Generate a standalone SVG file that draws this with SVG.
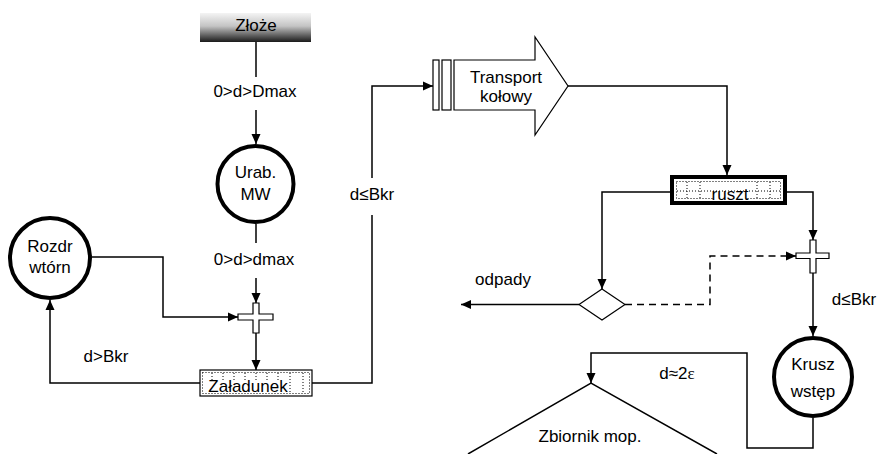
<svg xmlns="http://www.w3.org/2000/svg" width="878" height="454" viewBox="0 0 878 454">
<style>
text{font-family:"Liberation Sans",Arial,sans-serif;font-size:17px;fill:#000;text-anchor:middle}
.c{fill:none;stroke:#000;stroke-width:1.5}
.d{stroke-dasharray:7,5}
.node{fill:#fff;stroke:#000;stroke-width:4}
.thin{fill:#fff;stroke:#000;stroke-width:1.2}
.dot{fill:none;stroke:#000;stroke-width:1;stroke-dasharray:1,2}
</style>
<defs>
<linearGradient id="g" x1="0" y1="0" x2="0" y2="1">
<stop offset="0" stop-color="#f4f4f4"/>
<stop offset="0.45" stop-color="#c4c4c4"/>
<stop offset="1" stop-color="#1a1a1a"/>
</linearGradient>
<marker id="a" markerUnits="userSpaceOnUse" markerWidth="10" markerHeight="10" viewBox="0 0 10 10" refX="10" refY="5" orient="auto">
<path d="M0,0.5 L10,5 L0,9.5 Z" fill="#000"/>
</marker>
</defs>

<g id="connectors">
<path class="c" d="M256,42 V77"/>
<path class="c" d="M256,110 V144" marker-end="url(#a)"/>
<path class="c" d="M256,224 V243"/>
<path class="c" d="M256,278 V303" marker-end="url(#a)"/>
<path class="c" d="M92,257 H163 V317 H238" marker-end="url(#a)"/>
<path class="c" d="M256,333 V370" marker-end="url(#a)"/>
<path class="c" d="M200,383 H50 V300" marker-end="url(#a)"/>
<path class="c" d="M312,383 H372 V215"/>
<path class="c" d="M372,178 V86 H433" marker-end="url(#a)"/>
<path class="c" d="M568,86 H727 V175" marker-end="url(#a)"/>
<path class="c" d="M670,192 H602 V289" marker-end="url(#a)"/>
<path class="c" d="M579,304.5 H461" marker-end="url(#a)"/>
<path class="c d" d="M625,304.5 H710 V256 H796" marker-end="url(#a)"/>
<path class="c" d="M787,192 H813 V240" marker-end="url(#a)"/>
<path class="c" d="M813,273 V336" marker-end="url(#a)"/>
<path class="c" d="M813,418 V448 H747 V353 H591 V383" marker-end="url(#a)"/>
</g>

<g id="zloze">
<rect x="200" y="13" width="111" height="29" fill="url(#g)"/>
<text x="256" y="31">Złoże</text>
</g>
<text x="255" y="97">0&gt;d&gt;Dmax</text>

<g id="urab">
<circle class="node" cx="255.5" cy="184" r="38"/>
<text x="255.5" y="178">Urab.</text>
<text x="255.5" y="200">MW</text>
</g>
<text x="254" y="265">0&gt;d&gt;dmax</text>

<g id="rozdr">
<circle class="node" cx="50" cy="258" r="40"/>
<text x="50" y="252">Rozdr</text>
<text x="50" y="273">wtórn</text>
</g>
<text x="106" y="362">d&gt;Bkr</text>

<g id="cross1">
<path class="thin" d="M253,303 H259 V314 H273 V320 H259 V333 H253 V320 H238 V314 H253 Z"/>
</g>

<g id="zaladunek">
<rect x="200" y="370" width="112" height="26" fill="#fff" stroke="#000" stroke-width="1.2"/>
<rect class="dot" x="202.5" y="372.5" width="107" height="21"/>
<path class="dot" d="M212,373 V380 M223,373 V380 M234,373 V380 M245,373 V380 M256,373 V380 M267,373 V380 M278,373 V380 M290,373 V393 M303,373 V393"/>
<text x="248" y="392">Załadunek</text>
</g>

<text x="372" y="200">d≤Bkr</text>

<g id="transport">
<rect x="433" y="60" width="6" height="50" fill="#fff" stroke="#000" stroke-width="1.2"/>
<rect x="442" y="60" width="9" height="50" fill="#fff" stroke="#000" stroke-width="1.2"/>
<path class="thin" d="M454,60 H535 V37 L568,86 L535,135 V110 H454 Z"/>
<text x="506" y="83">Transport</text>
<text x="506" y="102">kołowy</text>
</g>

<g id="ruszt">
<rect x="672" y="177" width="113" height="26" fill="#fff" stroke="#000" stroke-width="4"/>
<rect class="dot" x="676.5" y="181.5" width="104" height="17"/>
<path class="dot" d="M677,191 H780 M687,182 V198 M700,182 V198 M757,182 V198 M770,182 V198"/>
<rect x="713" y="192" width="34" height="9" fill="#fff"/>
<text x="730" y="200">ruszt</text>
</g>

<g id="diamond">
<path class="thin" d="M602,289 L625,304.5 L602,320 L579,304.5 Z"/>
</g>
<text x="503" y="285">odpady</text>

<g id="cross2">
<path class="thin" d="M810,240 H816 V253 H829 V258.5 H816 V273 H810 V258.5 H796 V253 H810 Z"/>
</g>
<text x="854" y="305">d≤Bkr</text>

<g id="krusz">
<circle class="node" cx="813" cy="377" r="39"/>
<text x="813" y="370">Krusz</text>
<text x="813" y="397">wstęp</text>
</g>

<text x="677" y="379">d≈2<tspan font-family="'Liberation Serif',serif">ε</tspan></text>

<g id="zbiornik">
<path class="c" d="M468,454 L591,383 L717,454" stroke-width="1.2"/>
<text x="590" y="442">Zbiornik mop.</text>
</g>
</svg>
